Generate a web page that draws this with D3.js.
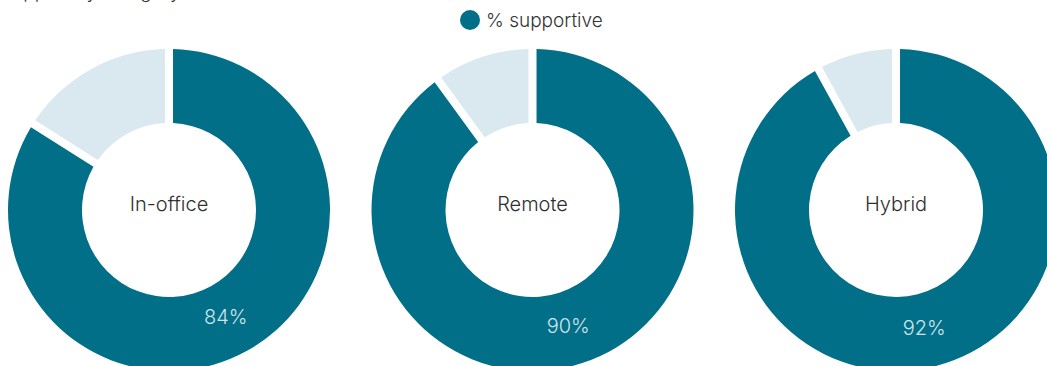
<!DOCTYPE html>
<html>
<head>
<meta charset="utf-8">
<script src="https://cdn.jsdelivr.net/npm/d3@7"></script>
<style>
  html, body { margin: 0; padding: 0; background: #ffffff; overflow: hidden; }
  svg { display: block; font-family: Inter, Roboto, "Noto Sans", sans-serif; }
</style>
</head>
<body>
<svg id="chart" width="1047" height="366"></svg>
<script>
// Work categories and the share of respondents who are supportive
const categories = ["In-office", "Remote", "Hybrid"];
const supportive = [84, 90, 92];
const seriesName = "% supportive";
const titleText = "Support by category";

const width = 1047, height = 366;
const outerR = 161, innerR = 87;
const colDark = "#016f88", colLight = "#dae9ef";

const svg = d3.select("#chart");

// Title line (sits mostly above the visible area)
svg.append("text")
  .attr("x", 0).attr("y", -2)
  .attr("font-size", 19).attr("font-weight", 300)
  .attr("fill", "#333")
  .text(titleText);

// Legend
const legend = svg.append("g").attr("transform", "translate(470,20)");
legend.append("circle").attr("r", 10).attr("fill", colDark);
legend.append("text")
  .attr("x", 16).attr("y", 6.5)
  .attr("font-size", 19).attr("font-weight", 300)
  .attr("fill", "#333")
  .text(seriesName);

// One donut per category, laid out across the width
const x = d3.scalePoint().domain(categories).range([169, 896]);

const pie = d3.pie().sort(null).value(d => d.v);
const arc = d3.arc().innerRadius(innerR).outerRadius(outerR).padAngle(0.044);
const labelArc = d3.arc().innerRadius(122).outerRadius(122);

categories.forEach((cat, i) => {
  const parts = [
    { key: "yes", v: supportive[i] },
    { key: "no", v: 100 - supportive[i] }
  ];
  const arcs = pie(parts);
  const g = svg.append("g").attr("transform", `translate(${x(cat)},210)`);

  g.selectAll("path")
    .data(arcs)
    .join("path")
    .attr("d", arc)
    .attr("fill", d => d.data.key === "yes" ? colDark : colLight);

  g.append("text")
    .attr("text-anchor", "middle")
    .attr("dominant-baseline", "central")
    .attr("y", -6.5)
    .attr("font-size", 20).attr("font-weight", 300)
    .attr("fill", "#2f2f2f")
    .text(cat);

  const c = labelArc.centroid(arcs[0]);
  g.append("text")
    .attr("x", c[0] - 2).attr("y", c[1])
    .attr("text-anchor", "middle")
    .attr("dominant-baseline", "central")
    .attr("font-size", 20).attr("font-weight", 300)
    .attr("fill", "#cfe4ea")
    .text(supportive[i] + "%");
});
</script>
</body>
</html>
